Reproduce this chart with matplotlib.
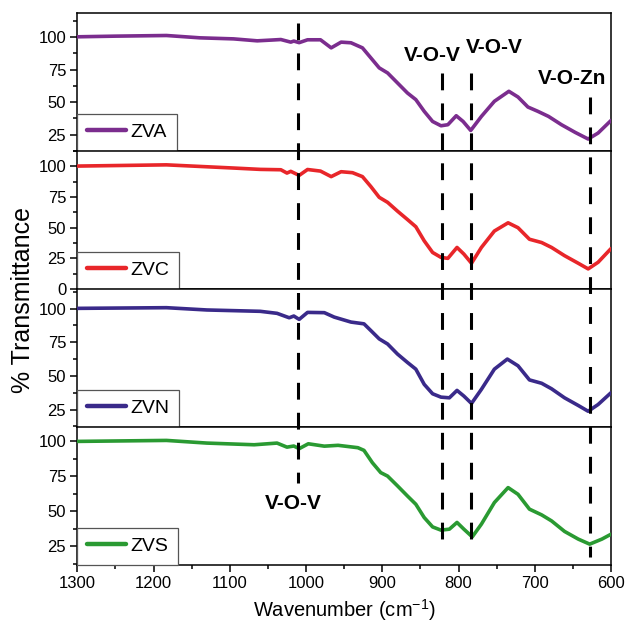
import matplotlib
matplotlib.use("Agg")
import matplotlib.pyplot as plt
from matplotlib.lines import Line2D
from matplotlib.ticker import MultipleLocator
import matplotlib.transforms as mtransforms

FONT = ["Liberation Sans", "DejaVu Sans"]
plt.rcParams["font.family"] = FONT

# ---- data ----
zva_wn = [1300, 1250, 1183, 1139, 1095, 1064, 1045, 1033, 1020, 1016, 1009, 998, 981, 967,
          954, 941, 926, 915, 904, 893, 880, 867, 856, 845, 834, 823, 814, 803, 794, 784,
          770, 753, 734, 722, 709, 696, 682, 665, 647, 630, 617, 600]
zva_t = [100.3, 100.8, 101.3, 99.5, 98.7, 97.2, 97.8, 98.2, 96.2, 97.0, 95.8, 98.0, 98.0, 91.8,
         96.2, 95.7, 91.8, 84.1, 76.4, 72.5, 64.8, 57.1, 52.0, 43.0, 35.2, 31.9, 32.7, 39.6, 35.2, 28.3,
         39.1, 50.7, 58.4, 54.0, 46.3, 43.0, 39.1, 32.7, 26.8, 21.7, 26.3, 36.0]

zvc_wn = [1300, 1183, 1139, 1095, 1060, 1033, 1025, 1020, 1009, 998, 981, 967, 954, 939,
          926, 915, 904, 893, 880, 867, 856, 845, 834, 823, 814, 802, 793, 783, 770, 753,
          735, 722, 707, 691, 678, 661, 643, 630, 617, 600]
zvc_t = [100.3, 101.3, 100.0, 98.7, 97.6, 97.3, 94.6, 96.0, 92.7, 97.5, 96.2, 91.7, 95.7, 94.9,
         91.7, 83.6, 74.8, 70.7, 63.5, 56.7, 50.8, 39.3, 29.8, 25.8, 25.0, 33.9, 28.5, 21.0, 33.9, 47.3,
         54.0, 50.0, 40.6, 37.9, 33.9, 27.2, 21.0, 16.4, 21.8, 33.0]

zvn_wn = [1300, 1183, 1130, 1060, 1038, 1022, 1016, 1009, 998, 976, 963, 941, 924, 915,
          904, 893, 880, 867, 856, 845, 834, 823, 812, 802, 793, 783, 770, 753, 736, 722,
          707, 691, 678, 661, 643, 630, 617, 600]
zvn_t = [100.2, 100.7, 99.0, 98.0, 96.5, 93.2, 94.5, 92.0, 97.2, 97.0, 93.7, 90.0, 88.7, 83.7,
         77.5, 73.7, 66.2, 60.0, 55.0, 43.7, 36.7, 34.2, 33.7, 39.2, 35.0, 29.5, 40.0, 55.0, 62.5, 57.5,
         47.0, 44.5, 40.4, 33.7, 28.0, 23.7, 28.7, 37.5]

zvs_wn = [1300, 1183, 1130, 1068, 1038, 1025, 1016, 1009, 997, 976, 958, 932, 924, 913,
          902, 893, 880, 867, 856, 845, 834, 823, 812, 802, 793, 782, 770, 753, 735, 722,
          707, 691, 678, 661, 643, 628, 612, 600]
zvs_t = [99.8, 100.5, 98.6, 97.4, 98.6, 95.7, 96.5, 94.6, 98.1, 96.4, 97.0, 95.3, 93.4, 84.6,
         77.5, 75.0, 68.0, 60.8, 54.9, 45.4, 38.7, 36.4, 37.1, 41.9, 37.1, 31.6, 40.7, 56.1, 66.8, 62.0,
         51.4, 47.3, 43.0, 35.5, 30.0, 26.4, 30.0, 33.5]

names = ["ZVA", "ZVC", "ZVN", "ZVS"]
series = [(zva_wn, zva_t), (zvc_wn, zvc_t), (zvn_wn, zvn_t), (zvs_wn, zvs_t)]
colors = ["#7b2d8e", "#e8262a", "#3a2a8a", "#2a9a32"]
ylims = [(12.5, 118.5), (0, 112.5), (12, 114.5), (11.5, 110)]
yticks = [[25, 50, 75, 100], [0, 25, 50, 75, 100], [25, 50, 75, 100], [25, 50, 75, 100]]

# band positions (cm-1)
band_wn = [1010, 822, 784, 628]
band_span = [(0.964, 0.2345), (0.884, 0.133), (0.884, 0.133), (0.846, 0.117)]

fig = plt.figure(figsize=(6.28, 6.31), dpi=100)
left, width, h = 0.123, 0.850, 0.2185
bottoms = [0.7607, 0.5420, 0.3233, 0.1046]
axes = []
for i in range(4):
    ax = fig.add_axes([left, bottoms[i], width, h])
    wn, t = series[i]
    ax.plot(wn, t, color=colors[i], linewidth=2.6, solid_joinstyle="round",
            solid_capstyle="round", label=names[i], zorder=3)
    ax.set_xlim(1300, 600)
    ax.set_ylim(*ylims[i])
    ax.set_yticks(yticks[i])
    ax.yaxis.set_minor_locator(MultipleLocator(12.5))
    ax.xaxis.set_major_locator(MultipleLocator(100))
    ax.xaxis.set_minor_locator(MultipleLocator(50))
    ax.tick_params(which="major", direction="out", length=5, width=1.1, labelsize=12, pad=3)
    ax.tick_params(which="minor", direction="out", length=3, width=1.1)
    if i < 3:
        ax.tick_params(axis="x", which="both", bottom=False, labelbottom=False)
    for s in ax.spines.values():
        s.set_linewidth(1.1)
    leg = ax.legend(loc="lower left", borderaxespad=0, fontsize=14, handlelength=2.0,
                    handletextpad=0.25, fancybox=False, framealpha=1,
                    edgecolor="#555555", borderpad=0.5)
    leg.get_frame().set_linewidth(0.9)
    for ln in leg.get_lines():
        ln.set_linewidth(3.2)
    axes.append(ax)

# dashed band markers spanning the panels
for wn, (y0, y1) in zip(band_wn, band_span):
    tr = mtransforms.blended_transform_factory(axes[0].transData, fig.transFigure)
    fig.add_artist(Line2D([wn, wn], [y0, y1], transform=tr, color="black",
                          linewidth=2.2, dashes=(5.5, 4.3), zorder=5))

bold = dict(fontsize=15, fontweight="bold", ha="center", va="center")
fig.text(0.6887, 0.9128, "V-O-V", **bold)
fig.text(0.787, 0.924, "V-O-V", **bold)
fig.text(0.911, 0.876, "V-O-Zn", **bold)
fig.text(0.4666, 0.2013, "V-O-V", **bold)

fig.text(0.036, 0.525, "% Transmittance", rotation=90, fontsize=18, ha="center", va="center")
fig.text(0.549, 0.033, "Wavenumber (cm$^{\\mathregular{-1}}$)", fontsize=14.5,
         ha="center", va="center")

fig.savefig("out.png", dpi=100)
